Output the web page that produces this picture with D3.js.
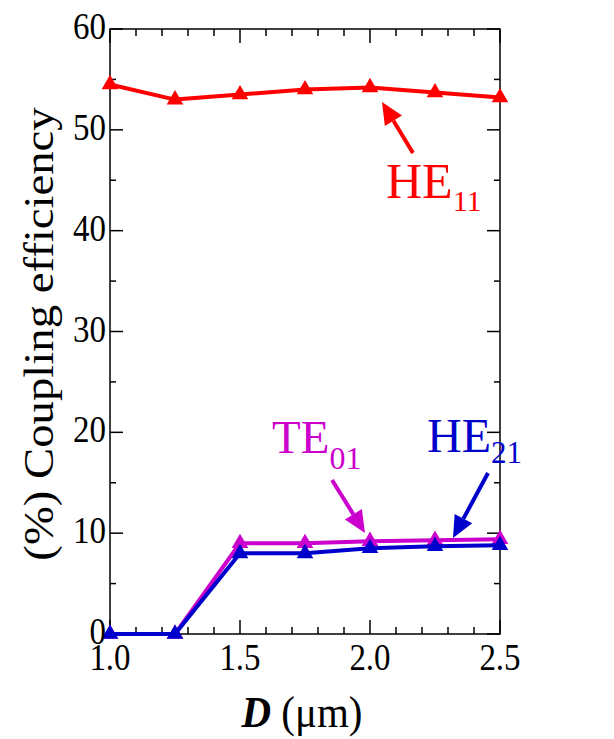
<!DOCTYPE html>
<html><head><meta charset="utf-8">
<script src="https://cdn.jsdelivr.net/npm/d3@7"></script>
<style>
svg text, svg tspan { font-family: "Liberation Serif", "Times New Roman", serif !important; }
</style>
</head><body style="margin:0;background:#fff">
<svg id="c" width="614" height="739"></svg>
<script>
const dValues = [1.0, 1.25, 1.5, 1.75, 2.0, 2.25, 2.5];
const he11 = [54.5, 53.0, 53.5, 54.0, 54.2, 53.7, 53.2];
const te01 = [0, 0, 9.0, 9.0, 9.2, 9.3, 9.4];
const he21 = [0, 0, 8.0, 8.0, 8.5, 8.7, 8.8];
const xTicks = [1.0, 1.5, 2.0, 2.5];
const yTicks = [0, 10, 20, 30, 40, 50, 60];

const serifFamily = "Liberation Serif";
const svg = d3.select("#c");
const L = 110, R = 500, T = 29, B = 634;
const x = d3.scaleLinear().domain([1.0, 2.5]).range([L, R]);
const y = d3.scaleLinear().domain([0, 60]).range([B, T]);

function txt(parent) {
  return parent.append("text").attr("font-family", serifFamily);
}

// frame
svg.append("rect").attr("x", L).attr("y", T).attr("width", R - L).attr("height", B - T)
  .attr("fill", "none").attr("stroke", "#000").attr("stroke-width", 1.5);

const g = svg.append("g").attr("stroke", "#000").attr("stroke-width", 1.5);
d3.range(10, 26).map(v => v / 10).forEach(v => {
  const major = Math.abs(v * 2 - Math.round(v * 2)) < 1e-6;
  const len = major ? 14 : 7;
  g.append("line").attr("x1", x(v)).attr("x2", x(v)).attr("y1", B).attr("y2", B - len);
  g.append("line").attr("x1", x(v)).attr("x2", x(v)).attr("y1", T).attr("y2", T + len);
});
d3.range(0, 61, 5).forEach(v => {
  const major = v % 10 === 0;
  const len = major ? 13 : 6;
  g.append("line").attr("y1", y(v)).attr("y2", y(v)).attr("x1", L).attr("x2", L + len);
  g.append("line").attr("y1", y(v)).attr("y2", y(v)).attr("x1", R).attr("x2", R - len);
});

// series
const series = [
  {vals: te01, color: "#cc00cc"},
  {vals: he21, color: "#0000cc"},
  {vals: he11, color: "#ff0000"}
];
const line = d3.line().x((d, i) => x(dValues[i])).y(d => y(d));
const tri = d3.symbol().type(d3.symbolTriangle).size(120);
series.forEach(s => {
  svg.append("path").attr("d", line(s.vals)).attr("fill", "none").attr("stroke", s.color)
    .attr("stroke-width", 4).attr("stroke-linejoin", "round");
  svg.append("g").selectAll("path").data(s.vals).join("path")
    .attr("d", tri).attr("fill", s.color)
    .attr("transform", (d, i) => `translate(${x(dValues[i])},${y(d)})`);
});

const SY = 1.12;
// tick labels
yTicks.forEach(d => {
  txt(svg).attr("transform", `translate(${L - 4},${y(d) + 10}) scale(1,${SY})`)
    .attr("text-anchor", "end").attr("font-size", 33).text(d);
});
xTicks.forEach(d => {
  txt(svg).attr("transform", `translate(${x(d)},670) scale(1,${SY})`)
    .attr("text-anchor", "middle").attr("font-size", 33).text(d.toFixed(1));
});

// axis titles
const xt = txt(svg).attr("transform", `translate(302,727) scale(1,1.1)`)
  .attr("text-anchor", "middle").attr("font-size", 41);
xt.append("tspan").attr("font-weight", "bold").attr("font-style", "italic").text("D");
xt.append("tspan").text(" (μm)");
txt(svg).attr("transform", "translate(53,334) rotate(-90) scale(1.1,1)").attr("text-anchor", "middle")
  .attr("font-size", 42.5).text("(%) Coupling efficiency");

// labels with arrows
function arrow(x1, y1, x2, y2, color) {
  const ang = Math.atan2(y2 - y1, x2 - x1);
  const hl = 22, hw = 10;
  const bx = x2 - hl * Math.cos(ang), by = y2 - hl * Math.sin(ang);
  svg.append("line").attr("x1", x1).attr("y1", y1).attr("x2", bx).attr("y2", by)
    .attr("stroke", color).attr("stroke-width", 4);
  const px = -Math.sin(ang) * hw, py = Math.cos(ang) * hw;
  svg.append("path").attr("d", `M${x2},${y2}L${bx + px},${by + py}L${bx - px},${by - py}Z`).attr("fill", color);
}
function label(xp, yp, main, sub, color, size, subSize, dy) {
  const t = txt(svg).attr("x", xp).attr("y", yp).attr("fill", color).attr("font-size", size);
  t.append("tspan").text(main);
  t.append("tspan").attr("font-size", subSize).attr("dy", dy).text(sub);
}
arrow(413, 153, 382, 102, "#ff0000");
label(386, 198, "HE", "11", "#ff0000", 50, 30, 13);
arrow(332, 480, 365, 533, "#cc00cc");
label(272, 453, "TE", "01", "#cc00cc", 47, 32, 16);
arrow(488, 473, 453, 538, "#0000cc");
label(427, 452, "HE", "21", "#0000cc", 48, 31, 11);
</script>
</body></html>
